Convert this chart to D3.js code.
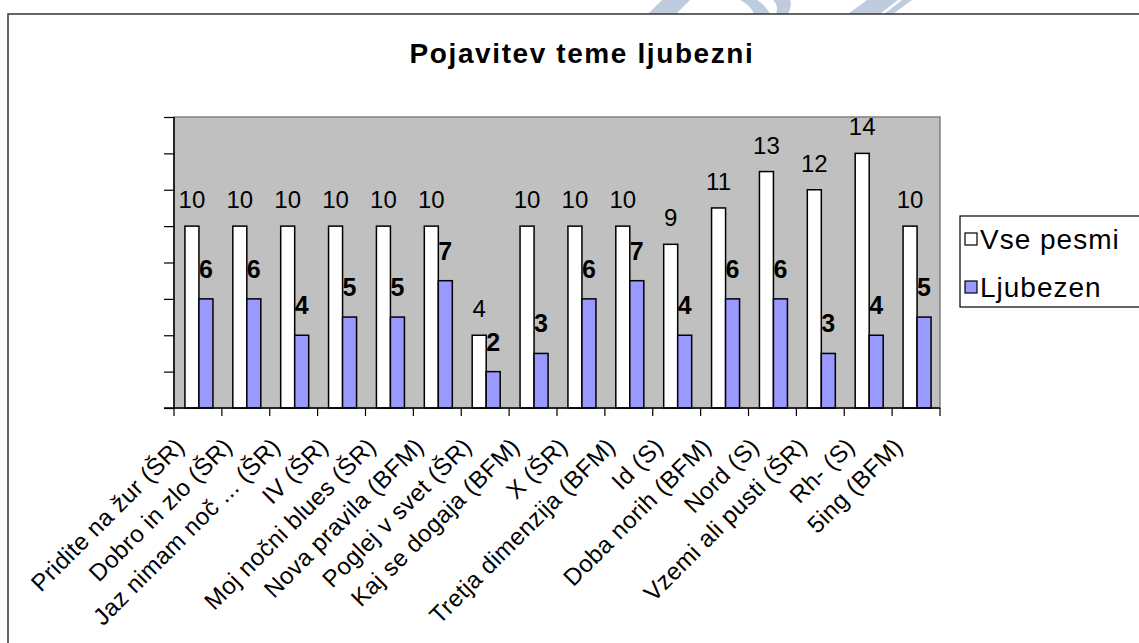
<!DOCTYPE html>
<html><head><meta charset="utf-8">
<script src="https://cdn.jsdelivr.net/npm/d3@7"></script>
<style>
html,body{margin:0;padding:0;background:#fff;}
svg{display:block;font-family:Arial,"Liberation Sans",sans-serif;}
</style></head>
<body><svg id="c" width="1139" height="643"></svg>
<script>
const categories = ["Pridite na žur (ŠR)","Dobro in zlo (ŠR)","Jaz nimam noč ... (ŠR)","IV (ŠR)","Moj nočni blues (ŠR)","Nova pravila (BFM)","Poglej v svet (ŠR)","Kaj se dogaja (BFM)","X (ŠR)","Tretja dimenzija (BFM)","Id (S)","Doba norih (BFM)","Nord (S)","Vzemi ali pusti (ŠR)","Rh- (S)","5ing (BFM)"];
const vsePesmi = [10,10,10,10,10,10,4,10,10,10,9,11,13,12,14,10];
const ljubezen = [6,6,4,5,5,7,2,3,6,7,4,6,6,3,4,5];
const seriesNames = ["Vse pesmi","Ljubezen"];
const yTicks = [0,2,4,6,8,10,12,14,16];
const title = "Pojavitev teme ljubezni";

const svg = d3.select("#c");
const plot = {l:174, r:940, t:117, b:408};
const colors = ["#ffffff","#9999ff"];

// decorative watermark at top
const wm = svg.append("g").attr("fill","#b4c4d8").attr("opacity",0.85);
wm.append("path").attr("d","M648,14 L662,0 L690,0 L676,14 Z");
wm.append("path").attr("d","M740,0 L757,0 C765,5 768,10 770,14 L754,14 C752,9 748,4 740,0 Z");
wm.append("path").attr("d","M773,0 L790,0 C792,5 790,10 788,14 L776,14 C778,9 777,4 773,0 Z");
wm.append("path").attr("d","M848,14 L867,0 L898,0 L880,14 Z");
wm.append("path").attr("d","M884,14 L902,0 L912,0 L893,14 Z");

// outer frame
svg.append("rect").attr("x",8).attr("y",14).attr("width",1200).attr("height",700)
  .attr("fill","#fff").attr("stroke","#333").attr("stroke-width",1.5);

const x = d3.scaleBand().domain(categories).range([plot.l, plot.r]).paddingInner(0).paddingOuter(0);
const xs = d3.scaleBand().domain(seriesNames).range([0, x.bandwidth()]).paddingInner(0).paddingOuter(0.71);
const y = d3.scaleLinear().domain([0,16]).range([plot.b, plot.t]);

// plot area
svg.append("rect").attr("x",plot.l).attr("y",plot.t).attr("width",plot.r-plot.l).attr("height",plot.b-plot.t)
  .attr("fill","#c0c0c0").attr("stroke","#808080").attr("stroke-width",1.5);

// title
svg.append("text").attr("x",582).attr("y",63).attr("text-anchor","middle")
  .attr("font-size",28).attr("font-weight","bold").attr("letter-spacing",1.6).text(title);

// bars
const data = [vsePesmi, ljubezen];
data.forEach((vals, si) => {
  svg.append("g").selectAll("rect").data(categories).join("rect")
    .attr("x", c => x(c) + xs(seriesNames[si]) + 1)
    .attr("y", (c,i) => y(vals[i]))
    .attr("width", xs.bandwidth())
    .attr("height", (c,i) => y(0) - y(vals[i]))
    .attr("fill", colors[si]).attr("stroke","#000").attr("stroke-width",1.5);
});

// value labels
svg.append("g").selectAll("text").data(categories).join("text")
  .attr("x", c => x(c) + xs(seriesNames[0]) + 1 + xs.bandwidth()/2)
  .attr("y", (c,i) => y(vsePesmi[i]) - 18)
  .attr("text-anchor","middle").attr("font-size",24).text((c,i)=>vsePesmi[i]);
svg.append("g").selectAll("text").data(categories).join("text")
  .attr("x", c => x(c) + xs(seriesNames[1]) + 1 + xs.bandwidth()/2)
  .attr("y", (c,i) => y(ljubezen[i]) - 21)
  .attr("text-anchor","middle").attr("font-size",25).attr("font-weight","bold").text((c,i)=>ljubezen[i]);

// y axis
const ya = svg.append("g").attr("transform",`translate(${plot.l},0)`)
  .call(d3.axisLeft(y).tickValues(yTicks).tickSize(10).tickFormat(""));
ya.select(".domain").attr("stroke","#000").attr("stroke-width",1.5).attr("d",`M0,${plot.t}V${plot.b}`);
ya.selectAll(".tick line").attr("stroke","#000").attr("stroke-width",1.2);

// x axis
const xa = svg.append("g").attr("transform",`translate(0,${plot.b})`)
  .call(d3.axisBottom(x).tickSize(0).tickFormat(""));
xa.select(".domain").attr("stroke","#000").attr("stroke-width",1.5).attr("d",`M${plot.l-10},0H${plot.r}`);
const bounds = categories.map(c => x(c)).concat([plot.r]);
xa.selectAll("line.bt").data(bounds).join("line").attr("class","bt")
  .attr("x1",d=>d).attr("x2",d=>d).attr("y1",0).attr("y2",8).attr("stroke","#000").attr("stroke-width",1.2);

// x labels
svg.append("g").selectAll("text").data(categories).join("text")
  .attr("transform", c => `translate(${x(c)+x.bandwidth()/2-12},${plot.b+40}) rotate(-45)`)
  .attr("text-anchor","end").attr("font-size",24).attr("letter-spacing",0.4).text(c=>c);

// legend
const lg = svg.append("g");
lg.append("rect").attr("x",960).attr("y",216).attr("width",220).attr("height",91)
  .attr("fill","#fff").attr("stroke","#000").attr("stroke-width",1.2);
seriesNames.forEach((n,i) => {
  const cy = 239 + i*48;
  lg.append("rect").attr("x",965).attr("y",cy-6).attr("width",12).attr("height",12)
    .attr("fill",colors[i]).attr("stroke","#000").attr("stroke-width",1.2);
  lg.append("text").attr("x",980).attr("y",cy+10).attr("font-size",28).attr("letter-spacing",1).text(n);
});
</script></body></html>
